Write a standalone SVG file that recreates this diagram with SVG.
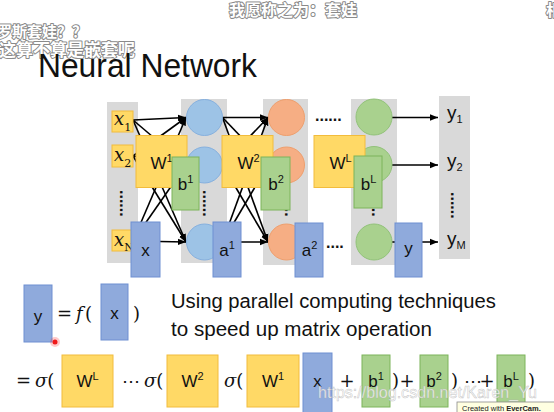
<svg xmlns="http://www.w3.org/2000/svg" width="554" height="412" viewBox="0 0 554 412">
<defs>
<style>
.col{fill:#D9D9D9}
.yb{fill:#FFD966;stroke:#F2BC3C;stroke-width:1}
.gb{fill:#A9D18E;stroke:#7DB45A;stroke-width:1}
.bb{fill:#8FAADC;stroke:#6E8FD2;stroke-width:1}
.cb{fill:#9DC3E6;stroke:#86B0DE;stroke-width:1}
.co{fill:#F6AE84;stroke:#EE9F6E;stroke-width:1}
.cg{fill:#A9D18E;stroke:#92C27A;stroke-width:1}
.lbl{font-family:"Liberation Sans",Arial,sans-serif;font-size:17px;fill:#111;text-anchor:middle}
.sup{font-size:11px}
.ix{font-family:"DejaVu Serif",serif;font-style:italic;font-size:18px;fill:#111}
.sub{font-size:11px;font-style:normal}
.out{font-family:"Liberation Sans",Arial,sans-serif;font-size:19px;fill:#111}
.dots{font-family:"Liberation Sans",Arial,sans-serif;font-size:16px;fill:#111;font-weight:bold}
.math{font-family:"DejaVu Serif",serif;font-size:18px;fill:#111}
.it{font-style:italic}
.body{font-family:"Liberation Sans",Arial,sans-serif;font-size:19.5px;fill:#111}
.dm{font-family:"Noto Sans CJK SC",sans-serif;font-weight:bold;fill:#ffffff;stroke:#8a8a8a;stroke-width:2;paint-order:stroke;stroke-linejoin:round}
.conn line{stroke:#000;stroke-width:1.6;marker-end:url(#ah)}
</style>
<marker id="ah" viewBox="0 0 10 10" refX="10" refY="5" markerWidth="8" markerHeight="8" markerUnits="userSpaceOnUse" orient="auto">
<path d="M0,1 L10,5 L0,9 z" fill="#000"/>
</marker>
</defs>
<rect width="554" height="412" fill="#fff"/>

<!-- danmaku overlay -->
<g id="danmaku">
<text class="dm" x="229" y="16" font-size="16">我愿称之为：套娃</text>
<text class="dm" x="-3" y="37" font-size="15">罗斯套娃？？</text>
<text class="dm" x="-1" y="56" font-size="17">这算不算是嵌套呢</text>
<text class="dm" x="546" y="16" font-size="16">相</text>
</g>

<text x="38" y="77" font-family="Liberation Sans, Arial, sans-serif" font-size="33" fill="#111" textLength="219" lengthAdjust="spacingAndGlyphs">Neural Network</text>

<!-- layer columns -->
<g id="col-input"><rect class="col" x="107" y="102" width="31" height="161"/></g>
<g id="col-h1"><rect class="col" x="181" y="99" width="46" height="164"/></g>
<g id="col-h2"><rect class="col" x="263" y="99" width="45" height="166"/></g>
<g id="col-hL"><rect class="col" x="351" y="99" width="46" height="166"/></g>
<g id="col-out"><rect class="col" x="439" y="96" width="31" height="163"/></g>

<!-- connectors -->
<g id="connectors" class="conn">
<line x1="133" y1="120" x2="186" y2="117.5"/>
<line x1="133" y1="120" x2="186" y2="165"/>
<line x1="133" y1="120" x2="186" y2="242"/>
<line x1="133" y1="156" x2="186" y2="117.5"/>
<line x1="133" y1="156" x2="186" y2="165"/>
<line x1="133" y1="156" x2="186" y2="242"/>
<line x1="133" y1="241" x2="186" y2="117.5"/>
<line x1="133" y1="241" x2="186" y2="165"/>
<line x1="133" y1="241" x2="186" y2="242"/>
<line x1="222.5" y1="117.5" x2="268" y2="117.5"/>
<line x1="222.5" y1="117.5" x2="268" y2="165"/>
<line x1="222.5" y1="117.5" x2="268" y2="242"/>
<line x1="222.5" y1="165" x2="268" y2="117.5"/>
<line x1="222.5" y1="165" x2="268" y2="165"/>
<line x1="222.5" y1="165" x2="268" y2="242"/>
<line x1="222.5" y1="242" x2="268" y2="117.5"/>
<line x1="222.5" y1="242" x2="268" y2="165"/>
<line x1="222.5" y1="242" x2="268" y2="242"/>
<line x1="392" y1="117.5" x2="438" y2="117.5"/>
<line x1="392" y1="165" x2="438" y2="165"/>
<line x1="392" y1="242" x2="438" y2="242"/>
</g>

<!-- input nodes -->
<g id="in-x1"><rect class="yb" x="112" y="111" width="21" height="21"/><text class="ix" x="114" y="125">x<tspan class="sub" dy="6">1</tspan></text></g>
<g id="in-x2"><rect class="yb" x="112" y="145" width="21" height="22"/><text class="ix" x="114" y="161">x<tspan class="sub" dy="6">2</tspan></text></g>
<g id="in-dots"><text class="dots" transform="translate(119.5,190) rotate(90)">......</text></g>
<g id="in-xN"><rect class="yb" x="112" y="230" width="21" height="21"/><text class="ix" x="114" y="246">x<tspan class="sub" dy="5">N</tspan></text></g>

<!-- hidden layer 1 -->
<g id="h1-1"><circle class="cb" cx="204.5" cy="117.5" r="18"/></g>
<g id="h1-2"><circle class="cb" cx="204.5" cy="165" r="18"/></g>
<g id="h1-dots"><text class="dots" transform="translate(202.5,190) rotate(90)">......</text></g>
<g id="h1-N"><circle class="cb" cx="204.5" cy="242" r="18"/></g>

<!-- hidden layer 2 -->
<g id="h2-1"><circle class="co" cx="286.5" cy="117.5" r="18"/></g>
<g id="h2-2"><circle class="co" cx="286.5" cy="165" r="18"/></g>
<g id="h2-dots"><text class="dots" transform="translate(284.5,190) rotate(90)">......</text></g>
<g id="h2-N"><circle class="co" cx="286.5" cy="242" r="18"/></g>

<g id="mid-dots"><text class="dots" x="315" y="121">......</text><text class="dots" x="326" y="248">....</text></g>

<!-- last hidden layer -->
<g id="hL-1"><circle class="cg" cx="374" cy="117" r="18"/></g>
<g id="hL-2"><circle class="cg" cx="374" cy="164.5" r="18"/></g>
<g id="hL-dots"><text class="dots" transform="translate(372,190) rotate(90)">......</text></g>
<g id="hL-N"><circle class="cg" cx="374" cy="242" r="18"/></g>

<!-- outputs -->
<g id="out-y1"><text class="out" x="447" y="119">y<tspan class="sub" font-size="12" dy="4">1</tspan></text></g>
<g id="out-y2"><text class="out" x="447" y="167">y<tspan class="sub" font-size="12" dy="4">2</tspan></text></g>
<g id="out-dots"><text class="dots" transform="translate(451,192) rotate(90)">......</text></g>
<g id="out-yM"><text class="out" x="447" y="245">y<tspan class="sub" font-size="12" dy="4">M</tspan></text></g>

<!-- weight / bias / vector blocks -->
<g id="W1"><rect class="yb" x="136" y="135.5" width="51" height="52"/><text class="lbl" x="161.5" y="169">W<tspan class="sup" dy="-7">1</tspan></text></g>
<g id="b1"><rect class="gb" x="172" y="157" width="27" height="53"/><text class="lbl" x="185.5" y="190">b<tspan class="sup" dy="-7">1</tspan></text></g>
<g id="W2"><rect class="yb" x="222" y="135.5" width="51" height="52"/><text class="lbl" x="248.5" y="169">W<tspan class="sup" dy="-7">2</tspan></text></g>
<g id="b2"><rect class="gb" x="261" y="157" width="29" height="53"/><text class="lbl" x="276" y="190">b<tspan class="sup" dy="-7">2</tspan></text></g>
<g id="WL"><rect class="yb" x="314" y="135.5" width="51" height="52"/><text class="lbl" x="340.5" y="169">W<tspan class="sup" dy="-7">L</tspan></text></g>
<g id="bL"><rect class="gb" x="354" y="156" width="28" height="52"/><text class="lbl" x="368.5" y="190">b<tspan class="sup" dy="-7">L</tspan></text></g>
<g id="vx"><rect class="bb" x="131" y="222" width="29" height="55"/><text class="lbl" x="145.5" y="256">x</text></g>
<g id="va1"><rect class="bb" x="213" y="222" width="28" height="55"/><text class="lbl" x="227" y="256">a<tspan class="sup" dy="-7">1</tspan></text></g>
<g id="va2"><rect class="bb" x="295" y="223" width="28" height="54"/><text class="lbl" x="309.5" y="256">a<tspan class="sup" dy="-7">2</tspan></text></g>
<g id="vy"><rect class="bb" x="395" y="223" width="27" height="54"/><text class="lbl" x="408.5" y="254">y</text></g>

<!-- equation 1 -->
<g id="eq1">
<rect class="bb" x="24" y="285" width="28" height="57"/><text class="lbl" x="38" y="322">y</text>
<text class="math" x="64.5" y="320" text-anchor="middle">=</text>
<text class="math it" x="76" y="320">f</text>
<text class="math" x="85" y="320">(</text>
<rect class="bb" x="101" y="284" width="27" height="56"/><text class="lbl" x="114.5" y="319">x</text>
<text class="math" x="133" y="320">)</text>
<circle cx="55" cy="342" r="5" fill="#ff3030" fill-opacity="0.25"/>
<circle cx="55" cy="342" r="2.5" fill="#f01818"/>
</g>
<text class="body" x="171" y="308" textLength="325" lengthAdjust="spacingAndGlyphs">Using parallel computing techniques</text>
<text class="body" x="171" y="336" textLength="261" lengthAdjust="spacingAndGlyphs">to speed up matrix operation</text>

<!-- equation 2 -->
<g id="eq2">
<text class="math" x="16" y="387">=</text>
<text class="math" x="35" y="387"><tspan class="it">σ</tspan>(</text>
<rect class="yb" x="62" y="355" width="51" height="52"/><text class="lbl" x="87.5" y="387">W<tspan class="sup" dy="-7">L</tspan></text>
<text class="math" x="122" y="387">⋯</text>
<text class="math" x="144" y="387"><tspan class="it">σ</tspan>(</text>
<rect class="yb" x="167" y="355" width="51" height="52"/><text class="lbl" x="192.5" y="387">W<tspan class="sup" dy="-7">2</tspan></text>
<text class="math" x="224" y="387"><tspan class="it">σ</tspan>(</text>
<rect class="yb" x="247" y="355" width="52" height="52"/><text class="lbl" x="273" y="387">W<tspan class="sup" dy="-7">1</tspan></text>
<rect class="bb" x="303" y="353" width="29" height="60"/><text class="lbl" x="317.5" y="387">x</text>
<text class="math" x="347" y="387" text-anchor="middle">+</text>
<rect class="gb" x="362" y="355" width="28" height="52"/><text class="lbl" x="376" y="387">b<tspan class="sup" dy="-7">1</tspan></text>
<text class="math" x="392" y="387">)</text>
<text class="math" x="407" y="387" text-anchor="middle">+</text>
<rect class="gb" x="420" y="355" width="28" height="52"/><text class="lbl" x="434" y="387">b<tspan class="sup" dy="-7">2</tspan></text>
<text class="math" x="451" y="387">)</text>
<text class="math" x="464" y="387">⋯</text>
<text class="math" x="487" y="387" text-anchor="middle">+</text>
<rect class="gb" x="497" y="355" width="28" height="52"/><text class="lbl" x="511" y="387">b<tspan class="sup" dy="-7">L</tspan></text>
<text class="math" x="528" y="387">)</text>
</g>

<text x="318" y="398" font-family="Liberation Sans, Arial, sans-serif" font-size="16" fill="#ffffff" fill-opacity="0.8" stroke="#aaaaaa" stroke-width="0.5" stroke-opacity="0.7" textLength="219" lengthAdjust="spacingAndGlyphs">https://blog.csdn.net/Karen_Yu</text>

<g id="evercam">
<rect x="457" y="402" width="100" height="12" fill="#FFFFE1" stroke="#8a8a8a" stroke-width="0.8"/>
<text x="462" y="410.5" font-family="Liberation Sans, Arial, sans-serif" font-size="7.5" fill="#222">Created with <tspan font-weight="bold">EverCam.</tspan></text>
</g>
</svg>
